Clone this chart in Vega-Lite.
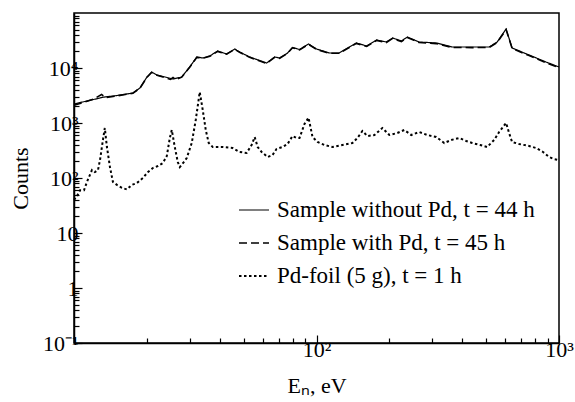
{
  "$schema": "https://vega.github.io/schema/vega-lite/v6.json",
  "width": 485,
  "height": 330,
  "autosize": {"type": "none"},
  "padding": {"left": 74, "top": 13, "right": 16, "bottom": 59},
  "background": "white",
  "config": {"view": {"stroke": "black", "strokeWidth": 1.5}, "font": "Liberation Serif"},
  "datasets": {
    "solid": [
      {"E": 10, "C": 2215}, {"E": 12.8, "C": 2850}, {"E": 13.2, "C": 2950}, {"E": 15, "C": 3150},
      {"E": 17.5, "C": 3510}, {"E": 18.7, "C": 4330}, {"E": 20.0, "C": 6860}, {"E": 20.9, "C": 8460},
      {"E": 22.0, "C": 7460}, {"E": 25.6, "C": 6310}, {"E": 27.8, "C": 6860}, {"E": 30.0, "C": 10430},
      {"E": 32.1, "C": 15850}, {"E": 34.0, "C": 15200}, {"E": 36.3, "C": 16520}, {"E": 39.1, "C": 20380},
      {"E": 42.6, "C": 17970}, {"E": 46.0, "C": 22150}, {"E": 48.2, "C": 19540}, {"E": 53.0, "C": 15850},
      {"E": 62.3, "C": 12330}, {"E": 67.2, "C": 15850}, {"E": 70.4, "C": 15200}, {"E": 76.0, "C": 18740},
      {"E": 79.6, "C": 23600}, {"E": 85.1, "C": 21700}, {"E": 92.7, "C": 27300}, {"E": 100, "C": 22150},
      {"E": 113, "C": 18740}, {"E": 124, "C": 18740}, {"E": 146, "C": 28480}, {"E": 161, "C": 25120},
      {"E": 177, "C": 32300}, {"E": 194, "C": 29700}, {"E": 206, "C": 35100}, {"E": 224, "C": 30970},
      {"E": 237, "C": 36600}, {"E": 265, "C": 29700}, {"E": 312, "C": 28480}, {"E": 363, "C": 24100},
      {"E": 439, "C": 24100}, {"E": 515, "C": 24100}, {"E": 556, "C": 29700}, {"E": 605, "C": 51200},
      {"E": 641, "C": 23100}, {"E": 753, "C": 17220}, {"E": 884, "C": 12850}, {"E": 1000, "C": 10430}
    ],
    "dashed": [
      {"E": 10, "C": 2100}, {"E": 12.0, "C": 2700}, {"E": 13.0, "C": 3300}, {"E": 13.5, "C": 2900},
      {"E": 15, "C": 3100}, {"E": 17.5, "C": 3480}, {"E": 18.7, "C": 4300}, {"E": 20.0, "C": 6800},
      {"E": 20.9, "C": 8300}, {"E": 22.0, "C": 7400}, {"E": 25.0, "C": 6200}, {"E": 25.6, "C": 6700},
      {"E": 26.3, "C": 6100}, {"E": 27.8, "C": 6800}, {"E": 30.0, "C": 10300}, {"E": 32.1, "C": 15600},
      {"E": 34.0, "C": 15000}, {"E": 36.3, "C": 16300}, {"E": 39.1, "C": 20000}, {"E": 42.6, "C": 17800},
      {"E": 46.0, "C": 21800}, {"E": 48.2, "C": 19300}, {"E": 53.0, "C": 15600}, {"E": 62.3, "C": 12100},
      {"E": 67.2, "C": 15600}, {"E": 70.4, "C": 15000}, {"E": 76.0, "C": 18500}, {"E": 79.6, "C": 23300},
      {"E": 85.1, "C": 21400}, {"E": 92.7, "C": 26900}, {"E": 100, "C": 21800}, {"E": 113, "C": 18500},
      {"E": 124, "C": 18500}, {"E": 146, "C": 28000}, {"E": 161, "C": 24600}, {"E": 177, "C": 31800},
      {"E": 194, "C": 29000}, {"E": 206, "C": 34500}, {"E": 224, "C": 30200}, {"E": 237, "C": 35800},
      {"E": 265, "C": 29000}, {"E": 312, "C": 27800}, {"E": 363, "C": 23600}, {"E": 439, "C": 23500},
      {"E": 515, "C": 23600}, {"E": 556, "C": 29000}, {"E": 605, "C": 50000}, {"E": 641, "C": 22600},
      {"E": 753, "C": 16800}, {"E": 884, "C": 12500}, {"E": 1000, "C": 10100}
    ],
    "dotted": [
      {"E": 10, "C": 40}, {"E": 10.29, "C": 47}, {"E": 10.59, "C": 60}, {"E": 11.0, "C": 60},
      {"E": 11.31, "C": 85}, {"E": 11.86, "C": 140}, {"E": 12.2, "C": 128}, {"E": 12.56, "C": 140},
      {"E": 12.8, "C": 212}, {"E": 13.16, "C": 491}, {"E": 13.4, "C": 811}, {"E": 13.67, "C": 366},
      {"E": 14.07, "C": 158}, {"E": 14.47, "C": 85}, {"E": 15.03, "C": 75}, {"E": 15.76, "C": 66},
      {"E": 16.52, "C": 62}, {"E": 17.33, "C": 75}, {"E": 18.17, "C": 81}, {"E": 19.23, "C": 100},
      {"E": 20.16, "C": 128}, {"E": 21.14, "C": 152}, {"E": 22.17, "C": 165}, {"E": 23.25, "C": 187},
      {"E": 24.14, "C": 251}, {"E": 24.84, "C": 534}, {"E": 25.31, "C": 746}, {"E": 26.04, "C": 366},
      {"E": 26.79, "C": 195}, {"E": 27.31, "C": 158}, {"E": 28.36, "C": 195}, {"E": 29.17, "C": 231},
      {"E": 30.59, "C": 433}, {"E": 31.77, "C": 1134}, {"E": 33.0, "C": 3660}, {"E": 33.96, "C": 1722},
      {"E": 34.94, "C": 746}, {"E": 35.94, "C": 433}, {"E": 37.33, "C": 366}, {"E": 41.04, "C": 366},
      {"E": 45.1, "C": 351}, {"E": 48.2, "C": 297}, {"E": 51.5, "C": 285}, {"E": 54.0, "C": 398},
      {"E": 55.6, "C": 556}, {"E": 57.2, "C": 366}, {"E": 59.4, "C": 297}, {"E": 62.9, "C": 241},
      {"E": 65.9, "C": 262}, {"E": 68.4, "C": 337}, {"E": 72.4, "C": 366}, {"E": 76.0, "C": 415},
      {"E": 79.6, "C": 580}, {"E": 82.7, "C": 534}, {"E": 85.1, "C": 534}, {"E": 89.2, "C": 959},
      {"E": 92.7, "C": 1250}, {"E": 96.3, "C": 556}, {"E": 101, "C": 451}, {"E": 107.9, "C": 398},
      {"E": 116.4, "C": 366}, {"E": 127.9, "C": 398}, {"E": 140.7, "C": 433}, {"E": 147.5, "C": 534},
      {"E": 154.6, "C": 715}, {"E": 162.1, "C": 580}, {"E": 173.3, "C": 605}, {"E": 186.9, "C": 811},
      {"E": 199.7, "C": 605}, {"E": 215.4, "C": 658}, {"E": 230.2, "C": 746}, {"E": 245.9, "C": 605},
      {"E": 265.4, "C": 686}, {"E": 286.3, "C": 605}, {"E": 311.8, "C": 556}, {"E": 336.3, "C": 433},
      {"E": 359.3, "C": 491}, {"E": 387.7, "C": 534}, {"E": 414.3, "C": 471}, {"E": 438.5, "C": 433},
      {"E": 473.1, "C": 398}, {"E": 505.5, "C": 366}, {"E": 540.2, "C": 491}, {"E": 566.4, "C": 686},
      {"E": 605.3, "C": 1000}, {"E": 622.6, "C": 658}, {"E": 640.6, "C": 451}, {"E": 684.6, "C": 415},
      {"E": 752.5, "C": 382}, {"E": 804, "C": 351}, {"E": 859.5, "C": 297}, {"E": 909.6, "C": 241},
      {"E": 953.7, "C": 221}, {"E": 1000, "C": 212}
    ]
  },
  "layer": [
    {
      "data": {"name": "solid"},
      "transform": [{"calculate": "'Sample without Pd, t = 44 h'", "as": "series"}],
      "mark": {"type": "line", "strokeCap": "butt"},
      "encoding": {}
    },
    {
      "data": {"name": "dashed"},
      "transform": [{"calculate": "'Sample with Pd, t = 45 h'", "as": "series"}],
      "mark": {"type": "line", "strokeCap": "butt"},
      "encoding": {}
    },
    {
      "data": {"name": "dotted"},
      "transform": [{"calculate": "'Pd-foil (5 g), t = 1 h'", "as": "series"}],
      "mark": {"type": "line", "strokeCap": "butt"},
      "encoding": {}
    }
  ],
  "encoding": {
    "x": {
      "field": "E", "type": "quantitative",
      "scale": {"type": "log", "domain": [10, 1000], "nice": false},
      "axis": {
        "title": "Eₙ, eV", "titleFont": "Liberation Serif", "titleFontSize": 22, "titleFontWeight": "normal",
        "titleColor": "black", "titleY": 49, "titleBaseline": "alphabetic",
        "values": [20, 30, 40, 50, 60, 70, 80, 90, 100, 200, 300, 400, 500, 600, 700, 800, 900, 1000],
        "labelExpr": "datum.value == 100 ? '10²' : datum.value == 1000 ? '10³' : ''",
        "labelFont": "Liberation Serif", "labelFontSize": 22, "labelColor": "black", "labelPadding": 4,
        "labelFlush": false, "labelOverlap": false,
        "tickColor": "black", "tickWidth": 1.2,
        "tickSize": {"condition": {"test": "datum.value == 100 || datum.value == 1000", "value": -8}, "value": -5},
        "domainColor": "black", "domainWidth": 1.5, "grid": false
      }
    },
    "y": {
      "field": "C", "type": "quantitative",
      "scale": {"type": "log", "domain": [0.1, 100000], "nice": false},
      "axis": {
        "title": "Counts", "titleFont": "Liberation Serif", "titleFontSize": 22, "titleFontWeight": "normal",
        "titleColor": "black", "titleX": -47, "titleY": 165, "titleAngle": -90, "titleBaseline": "alphabetic", "titleAlign": "center",
        "values": [0.1, 0.2, 0.3, 0.4, 0.5, 0.6, 0.7, 0.8, 0.9, 1, 2, 3, 4, 5, 6, 7, 8, 9, 10, 20, 30, 40, 50, 60, 70, 80, 90, 100, 200, 300, 400, 500, 600, 700, 800, 900, 1000, 2000, 3000, 4000, 5000, 6000, 7000, 8000, 9000, 10000, 20000, 30000, 40000, 50000, 60000, 70000, 80000, 90000],
        "labelExpr": "datum.value == 0.1 ? '10⁻¹' : datum.value == 1 ? '1' : datum.value == 10 ? '10' : datum.value == 100 ? '10²' : datum.value == 1000 ? '10³' : datum.value == 10000 ? '10⁴' : ''",
        "labelFont": "Liberation Serif", "labelFontSize": 22, "labelColor": "black", "labelPadding": 4,
        "labelFlush": false, "labelOverlap": false,
        "tickColor": "black", "tickWidth": 1.2,
        "tickSize": {"condition": {"test": "indexof([0.1, 1, 10, 100, 1000, 10000], datum.value) >= 0", "value": -8}, "value": -5},
        "domainColor": "black", "domainWidth": 1.5, "grid": false
      }
    },
    "strokeDash": {
      "field": "series", "type": "ordinal",
      "scale": {"domain": ["Sample without Pd, t = 44 h", "Sample with Pd, t = 45 h", "Pd-foil (5 g), t = 1 h"], "range": [[1, 0], [8, 4], [2.5, 2.5]]},
      "legend": {
        "title": null, "orient": "none", "legendX": 164, "legendY": 181, "symbolType": "stroke", "symbolSize": 900,
        "symbolStrokeColor": "black", "labelFont": "Liberation Serif", "labelFontSize": 23, "labelColor": "black",
        "labelOffset": 7, "rowPadding": 5, "padding": 0, "labelLimit": 400
      }
    },
    "strokeWidth": {
      "field": "series", "type": "ordinal",
      "scale": {"domain": ["Sample without Pd, t = 44 h", "Sample with Pd, t = 45 h", "Pd-foil (5 g), t = 1 h"], "range": [1.2, 2, 2]},
      "legend": {
        "title": null, "orient": "none", "legendX": 164, "legendY": 181, "symbolType": "stroke", "symbolSize": 900,
        "symbolStrokeColor": "black", "labelFont": "Liberation Serif", "labelFontSize": 23, "labelColor": "black",
        "labelOffset": 7, "rowPadding": 5, "padding": 0, "labelLimit": 400
      }
    },
    "color": {"value": "black"}
  }
}
